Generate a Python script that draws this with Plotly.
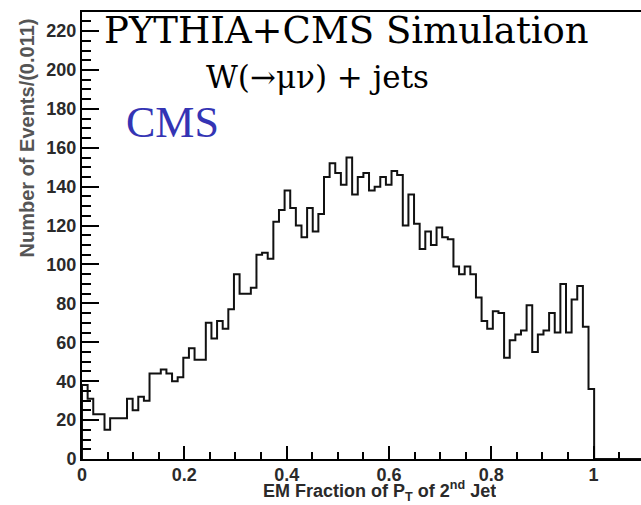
import numpy as np
import plotly.graph_objects as go

# Histogram definition: 100 bins of width 0.011 over [0, 1.1]
bin_width = 0.011
n_bins = 100

# Events per bin (bins above EM fraction 1.0 are empty)
counts = [
    38, 31, 23, 23, 15, 21, 21, 21, 31, 25,
    32, 30, 44, 44, 46, 44, 40, 42, 52, 57,
    51, 51, 70, 62, 71, 67, 77, 95, 85, 85,
    88, 105, 106, 103, 122, 128, 138, 129, 120, 114,
    129, 117, 126, 145, 152, 147, 141, 155, 136, 145,
    147, 138, 140, 145, 141, 148, 146, 120, 136, 121,
    108, 117, 110, 119, 114, 113, 99, 95, 99, 95,
    83, 71, 67, 76, 75, 52, 61, 64, 66, 79,
    55, 64, 66, 75, 65, 90, 65, 82, 89, 68,
    36, 0, 0, 0, 0, 0, 0, 0, 0, 0,
]

x_ticks = [0, 0.2, 0.4, 0.6, 0.8, 1]
x_tick_labels = ["0", "0.2", "0.4", "0.6", "0.8", "1"]
y_ticks = list(range(0, 221, 20))

title_text = "PYTHIA+CMS Simulation"
process_text = "W(\u2192\u03bc\u03bd) + jets"
experiment_text = "CMS"
x_title = "EM Fraction of P<sub>T</sub> of 2<sup>nd</sup> Jet"
y_title = "Number of Events/(0.011)"

W, H = 641, 505
ML, MR, MT, MB = 82, 0, 12, 46
X_MAX = 1.0926
Y_MAX = 229.8

edges = np.arange(n_bins + 1) * bin_width
step_x = np.concatenate([[0.0], edges])
step_y = np.concatenate([[0.0], counts, [counts[-1]]])

fig = go.Figure()
fig.add_trace(go.Scatter(
    x=step_x, y=step_y, mode="lines",
    line=dict(shape="hv", color="#111111", width=2),
    hoverinfo="skip", showlegend=False,
))

tick_font = dict(family="Liberation Sans", size=18, color="#2a2a2a", weight="bold")

fig.update_xaxes(
    range=[0, X_MAX], showgrid=False, zeroline=False,
    showline=True, linecolor="black", linewidth=2, mirror=True,
    ticks="inside", ticklen=13, tickwidth=2, tickcolor="black",
    tickvals=x_ticks, ticktext=x_tick_labels, tickfont=tick_font,
    ticklabelstandoff=-2,
    minor=dict(dtick=0.05, tick0=0, ticks="inside", ticklen=7,
               tickwidth=2, tickcolor="black", showgrid=False),
)
fig.update_yaxes(
    range=[0, Y_MAX], showgrid=False, zeroline=False,
    showline=True, linecolor="black", linewidth=2, mirror=False,
    ticks="inside", ticklen=17, tickwidth=2, tickcolor="black",
    tickvals=y_ticks, tickfont=tick_font,
    minor=dict(dtick=5, tick0=0, ticks="inside", ticklen=9,
               tickwidth=2, tickcolor="black", showgrid=False),
)

pw = W - ML - MR
ph = H - MT - MB


def px(x):
    return (x - ML) / pw


def py(y):
    return (H - MB - y) / ph


annotations = [
    dict(text=title_text, x=px(102), y=py(31), xanchor="left", yanchor="middle",
         font=dict(family="DejaVu Serif", size=37, color="black")),
    dict(text=process_text, x=px(204), y=py(77), xanchor="left", yanchor="middle",
         font=dict(family="DejaVu Serif", size=31, color="black")),
    dict(text=experiment_text, x=px(124), y=py(123), xanchor="left", yanchor="middle",
         font=dict(family="Liberation Serif", size=44, color="#3434b4")),
    dict(text=x_title, x=px(498), y=py(504), xanchor="right", yanchor="bottom",
         height=22, valign="middle",
         font=dict(family="Liberation Sans", size=18, color="#2a2a2a", weight="bold")),
    dict(text=y_title, x=px(27), y=py(17), xanchor="center", yanchor="top",
         textangle=-90,
         font=dict(family="Liberation Sans", size=20, color="#555555", weight="bold")),
]
for a in annotations:
    a.update(xref="paper", yref="paper", showarrow=False)

fig.update_layout(
    width=W, height=H,
    margin=dict(l=ML, r=MR, t=MT, b=MB, pad=0),
    paper_bgcolor="white", plot_bgcolor="white",
    annotations=annotations,
    showlegend=False,
)

fig.write_html("out.html")
